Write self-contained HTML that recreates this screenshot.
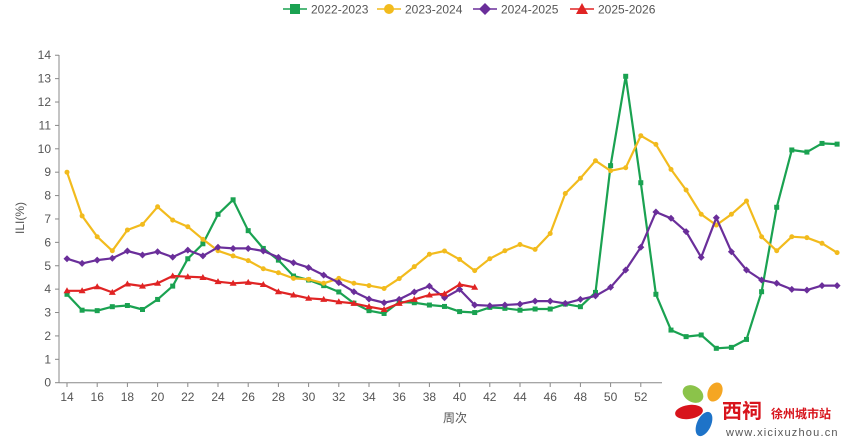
<!DOCTYPE html>
<html><head><meta charset="utf-8"><style>
html,body{margin:0;padding:0;background:#fff;}
svg{display:block;font-family:"Liberation Sans","Noto Sans CJK SC",sans-serif;}
</style></head><body>
<svg id="c" width="868" height="444" viewBox="0 0 868 444" xmlns="http://www.w3.org/2000/svg"></svg>
<script>
const svg=document.getElementById('c');
const X=i=>67+15.1*i, Y=v=>382.7-23.39*v;
let h='';
// axes
h+='<line x1="59" y1="55" x2="59" y2="383" stroke="#888" stroke-width="1"/>';
h+='<line x1="59" y1="382.7" x2="662" y2="382.7" stroke="#888" stroke-width="1"/>';
for(let v=0;v<=14;v++){const y=Y(v);h+=`<line x1="55" y1="${y}" x2="59" y2="${y}" stroke="#888"/>`;
h+=`<text x="51" y="${y+4}" font-size="12" fill="#555" text-anchor="end">${v}</text>`;}
for(let w=14;w<=52;w+=2){const x=X(w-14);h+=`<line x1="${x}" y1="383" x2="${x}" y2="387" stroke="#888"/>`;
h+=`<text x="${x}" y="401" font-size="12" fill="#555" text-anchor="middle">${w}</text>`;}
h+='<text x="455" y="422" font-size="12" fill="#555" text-anchor="middle">周次</text>';
h+='<text transform="translate(24,218) rotate(-90)" font-size="12" fill="#555" text-anchor="middle">ILI(%)</text>';
const S=[
['#1aa251','sq',[3.78,3.1,3.08,3.25,3.3,3.13,3.56,4.13,5.3,5.94,7.2,7.82,6.5,5.74,5.24,4.56,4.39,4.15,3.88,3.4,3.08,2.96,3.45,3.42,3.32,3.26,3.04,3.0,3.22,3.18,3.1,3.15,3.15,3.36,3.25,3.86,9.28,13.1,8.55,3.78,2.25,1.97,2.04,1.47,1.51,1.85,3.89,7.5,9.95,9.86,10.23,10.2]],
['#f2bb1d','ci',[9.0,7.13,6.24,5.64,6.53,6.77,7.52,6.95,6.67,6.13,5.64,5.42,5.22,4.87,4.7,4.46,4.42,4.25,4.46,4.25,4.15,4.03,4.45,4.96,5.49,5.63,5.27,4.79,5.3,5.64,5.91,5.7,6.38,8.09,8.74,9.49,9.06,9.19,10.56,10.19,9.12,8.24,7.2,6.74,7.2,7.77,6.24,5.64,6.24,6.2,5.96,5.56]],
['#6a2e9a','di',[5.3,5.1,5.24,5.32,5.63,5.46,5.6,5.37,5.67,5.42,5.79,5.74,5.74,5.63,5.36,5.13,4.92,4.6,4.28,3.89,3.58,3.42,3.56,3.88,4.13,3.63,3.99,3.32,3.29,3.32,3.36,3.49,3.49,3.39,3.56,3.71,4.08,4.82,5.79,7.3,7.03,6.46,5.36,7.05,5.6,4.82,4.39,4.25,3.99,3.96,4.15,4.15]],
['#e02424','tr',[3.93,3.93,4.1,3.86,4.22,4.13,4.25,4.56,4.53,4.5,4.32,4.25,4.29,4.2,3.89,3.75,3.61,3.56,3.46,3.39,3.25,3.13,3.39,3.56,3.75,3.8,4.2,4.08]]];
function mk(t,x,y,c,r){
 if(t=='sq')return `<rect x="${x-r}" y="${y-r}" width="${2*r}" height="${2*r}" fill="${c}"/>`;
 if(t=='ci')return `<circle cx="${x}" cy="${y}" r="${r}" fill="${c}"/>`;
 if(t=='di')return `<polygon points="${x},${y-r-1} ${x+r+1},${y} ${x},${y+r+1} ${x-r-1},${y}" fill="${c}"/>`;
 return `<polygon points="${x},${y-r-1} ${x+r+1},${y+r} ${x-r-1},${y+r}" fill="${c}"/>`;
}
for(const [c,t,d] of S){
 h+=`<polyline fill="none" stroke="${c}" stroke-width="2.2" stroke-linejoin="round" points="${d.map((v,i)=>X(i).toFixed(1)+','+Y(v).toFixed(1)).join(' ')}"/>`;
 d.forEach((v,i)=>h+=mk(t,X(i),Y(v),c,2.5));
}
// legend
const L=[[283,'#1aa251','sq','2022-2023'],[377,'#f2bb1d','ci','2023-2024'],[473,'#6a2e9a','di','2024-2025'],[570,'#e02424','tr','2025-2026']];
for(const [x,c,t,s] of L){h+=`<line x1="${x}" y1="9" x2="${x+24}" y2="9" stroke="${c}" stroke-width="1.5"/>`+mk(t,x+12,9,c,5)+`<text x="${x+28}" y="13.5" font-size="12" fill="#555">${s}</text>`;}
// logo
h+='<ellipse cx="693" cy="394" rx="11" ry="8" fill="#8bc34a" transform="rotate(30 693 394)"/>';
h+='<ellipse cx="715" cy="392" rx="7" ry="10" fill="#f5a623" transform="rotate(25 715 392)"/>';
h+='<ellipse cx="689" cy="412" rx="14" ry="7" fill="#d8141c" transform="rotate(-8 689 412)"/>';
h+='<ellipse cx="704" cy="424" rx="7" ry="13" fill="#1e73c8" transform="rotate(25 704 424)"/>';
h+='<text x="722" y="418" font-size="20" font-weight="bold" fill="#d8141c">西祠</text>';
h+='<text x="771" y="418" font-size="12" font-weight="bold" fill="#d8141c">徐州城市站</text>';
h+='<text x="726" y="436" font-size="11" fill="#555" letter-spacing="1.2">www.xicixuzhou.cn</text>';
svg.innerHTML=h;
</script>
</body></html>
